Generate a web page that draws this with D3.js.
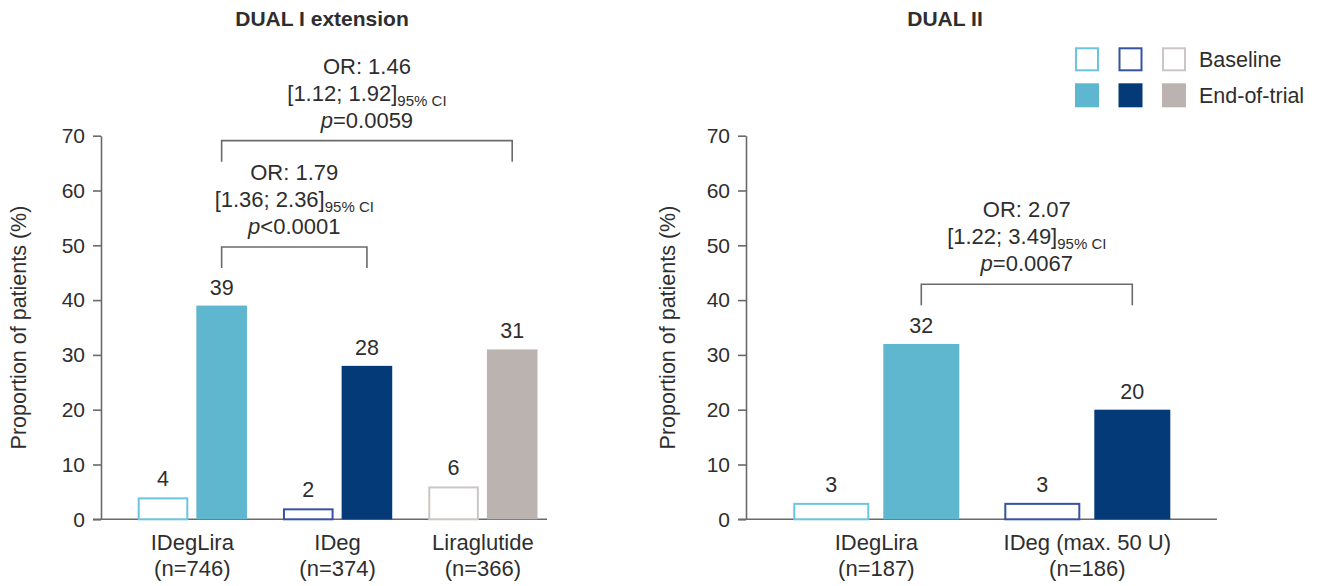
<!DOCTYPE html>
<html>
<head>
<meta charset="utf-8">
<script src="https://cdn.jsdelivr.net/npm/d3@7"></script>
<style>
  html, body { margin: 0; padding: 0; background: #fff; }
  svg { display: block; font-family: "Liberation Sans", Arial, Helvetica, sans-serif; }
</style>
</head>
<body>
<svg id="chart" width="1320" height="586"></svg>
<script>
// ---- data ----
const seriesNames = ["Baseline", "End-of-trial"];
const yTicks = [0, 10, 20, 30, 40, 50, 60, 70];

const dual1Title = "DUAL I extension";
const dual1Categories = ["IDegLira", "IDeg", "Liraglutide"];
const dual1N = ["(n=746)", "(n=374)", "(n=366)"];
const dual1Baseline = [4, 2, 6];
const dual1EndOfTrial = [39, 28, 31];

const dual2Title = "DUAL II";
const dual2Categories = ["IDegLira", "IDeg (max. 50 U)"];
const dual2N = ["(n=187)", "(n=186)"];
const dual2Baseline = [3, 3];
const dual2EndOfTrial = [32, 20];

// odds-ratio comparisons between end-of-trial bars (category indices)
const dual1Comparisons = [
  { from: 0, to: 2, or: "1.46", lo: "1.12", hi: "1.92", p: "=0.0059" },
  { from: 0, to: 1, or: "1.79", lo: "1.36", hi: "2.36", p: "<0.0001" }
];
const dual2Comparisons = [
  { from: 0, to: 1, or: "2.07", lo: "1.22", hi: "3.49", p: "=0.0067" }
];

// treatment colours: [baseline outline, end-of-trial fill]
const treatmentColors = {
  "IDegLira": ["#6cc3e2", "#5fb6cf"],
  "IDeg": ["#3553a0", "#043a78"],
  "IDeg (max. 50 U)": ["#3553a0", "#043a78"],
  "Liraglutide": ["#cbc6c4", "#bab3b0"]
};

// ---- drawing ----
const svg = d3.select("#chart");
const textColor = "#2e2e2e";
const axisColor = "#6a6a6a";
const labelSize = 21.5;

const y = d3.scaleLinear().domain([0, 70]).range([519.3, 135.7]);

function drawPanel(cfg) {
  const g = svg.append("g");
  const cats = cfg.categories;

  const x0 = d3.scaleBand().domain(cats).range(cfg.bandRange).paddingInner(cfg.groupPad).paddingOuter(0);
  const x1 = d3.scaleBand().domain(seriesNames).range([0, x0.bandwidth()]).paddingInner(cfg.pairPad);

  // title
  g.append("text")
    .attr("x", cfg.titleX).attr("y", 26)
    .attr("text-anchor", "middle")
    .attr("font-size", 21).attr("font-weight", "bold")
    .attr("fill", textColor)
    .text(cfg.title);

  // y axis
  const yAxis = d3.axisLeft(y).tickValues(yTicks).tickSize(8).tickSizeOuter(0).tickPadding(8);
  const ax = g.append("g").attr("transform", `translate(${cfg.axisX},0)`).call(yAxis);
  ax.select(".domain").attr("stroke", axisColor).attr("stroke-width", 1.6);
  ax.selectAll(".tick line").attr("stroke", axisColor).attr("stroke-width", 1.6);
  ax.selectAll(".tick text")
    .attr("font-size", 21).attr("fill", textColor)
    .attr("font-family", "'Liberation Sans', Arial, sans-serif");

  // y axis title
  g.append("text")
    .attr("transform", `translate(${cfg.yTitleX},${(y(0) + y(70)) / 2}) rotate(-90)`)
    .attr("text-anchor", "middle")
    .attr("font-size", 21.5)
    .attr("fill", textColor)
    .text("Proportion of patients (%)");

  // x axis line
  g.append("line")
    .attr("x1", cfg.axisX - 8).attr("x2", cfg.xAxisEnd)
    .attr("y1", y(0)).attr("y2", y(0))
    .attr("stroke", axisColor).attr("stroke-width", 1.6);

  const rows = cats.map((c, i) => ({
    cat: c, n: cfg.n[i],
    values: [
      { s: seriesNames[0], v: cfg.baseline[i] },
      { s: seriesNames[1], v: cfg.end[i] }
    ]
  }));

  const groups = g.selectAll("g.grp").data(rows).join("g")
    .attr("class", "grp")
    .attr("transform", d => `translate(${x0(d.cat)},0)`);

  groups.each(function (d) {
    const cols = treatmentColors[d.cat];
    const sel = d3.select(this);
    // baseline: outlined bar
    const b = d.values[0];
    sel.append("rect")
      .attr("x", x1(b.s) + 1)
      .attr("y", y(b.v) + 1)
      .attr("width", x1.bandwidth() - 2)
      .attr("height", y(0) - y(b.v) - 1)
      .attr("fill", "#fff")
      .attr("stroke", cols[0]).attr("stroke-width", 2);
    // end-of-trial: filled bar
    const e = d.values[1];
    sel.append("rect")
      .attr("x", x1(e.s))
      .attr("y", y(e.v))
      .attr("width", x1.bandwidth())
      .attr("height", y(0) - y(e.v))
      .attr("fill", cols[1]);

    // value labels
    sel.selectAll("text.val").data(d.values).join("text")
      .attr("class", "val")
      .attr("x", v => x1(v.s) + x1.bandwidth() / 2)
      .attr("y", v => y(v.v) - 11)
      .attr("text-anchor", "middle")
      .attr("font-size", labelSize)
      .attr("fill", textColor)
      .text(v => v.v);

    // category labels
    sel.append("text")
      .attr("x", x0.bandwidth() / 2).attr("y", 550)
      .attr("text-anchor", "middle")
      .attr("font-size", 22).attr("fill", textColor)
      .text(d.cat);
    sel.append("text")
      .attr("x", x0.bandwidth() / 2).attr("y", 576)
      .attr("text-anchor", "middle")
      .attr("font-size", 22).attr("fill", textColor)
      .text(d.n);
  });

  // comparison brackets with odds-ratio annotations
  const endX = i => x0(cats[i]) + x1(seriesNames[1]) + x1.bandwidth() / 2;
  cfg.comparisons.forEach((c, k) => {
    const level = cfg.bracketLevels[k];
    const top = y(level);
    const legBottom = top + 21;
    const xa = endX(c.from), xb = endX(c.to);
    g.append("path")
      .attr("d", `M${xa},${legBottom}V${top}H${xb}V${legBottom}`)
      .attr("fill", "none")
      .attr("stroke", axisColor).attr("stroke-width", 1.6);

    const cx = (xa + xb) / 2;
    const base = top - 13;
    g.append("text")
      .attr("x", cx).attr("y", base - 54)
      .attr("text-anchor", "middle")
      .attr("font-size", 22).attr("fill", textColor)
      .text(`OR: ${c.or}`);
    const ci = g.append("text")
      .attr("x", cx).attr("y", base - 27)
      .attr("text-anchor", "middle")
      .attr("font-size", 22).attr("fill", textColor);
    ci.append("tspan").text(`[${c.lo}; ${c.hi}]`);
    ci.append("tspan").attr("font-size", 15).attr("dy", 5).text("95% CI");
    const pt = g.append("text")
      .attr("x", cx).attr("y", base)
      .attr("text-anchor", "middle")
      .attr("font-size", 22).attr("fill", textColor);
    pt.append("tspan").attr("font-style", "italic").text("p");
    pt.append("tspan").text(c.p);
  });
}

drawPanel({
  title: dual1Title, titleX: 322,
  categories: dual1Categories, n: dual1N,
  baseline: dual1Baseline, end: dual1EndOfTrial,
  comparisons: dual1Comparisons, bracketLevels: [69.1, 49.7],
  axisX: 101, xAxisEnd: 547, yTitleX: 26,
  bandRange: [137.7, 537.5], groupPad: 0.248, pairPad: 0.137
});

drawPanel({
  title: dual2Title, titleX: 945,
  categories: dual2Categories, n: dual2N,
  baseline: dual2Baseline, end: dual2EndOfTrial,
  comparisons: dual2Comparisons, bracketLevels: [42.9],
  axisX: 746, xAxisEnd: 1217, yTitleX: 675,
  bandRange: [793.3, 1170.3], groupPad: 0.2133, pairPad: 0.1556
});

// legend
const legendCols = [treatmentColors["IDegLira"], treatmentColors["IDeg"], treatmentColors["Liraglutide"]];
const legX = d3.scalePoint().domain(d3.range(legendCols.length)).range([1075, 1162]);
const legY = d3.scalePoint().domain(seriesNames).range([47.3, 83.3]);
const leg = svg.append("g");
legendCols.forEach((cols, i) => {
  leg.append("rect")
    .attr("x", legX(i) + 1).attr("y", legY(seriesNames[0]) + 1)
    .attr("width", 22).attr("height", 22)
    .attr("fill", "#fff").attr("stroke", cols[0]).attr("stroke-width", 2);
  leg.append("rect")
    .attr("x", legX(i)).attr("y", legY(seriesNames[1]))
    .attr("width", 24).attr("height", 24)
    .attr("fill", cols[1]);
});
seriesNames.forEach(s => {
  leg.append("text")
    .attr("x", 1199).attr("y", legY(s) + 20)
    .attr("font-size", 21.5).attr("fill", textColor)
    .text(s);
});
</script>
</body>
</html>
